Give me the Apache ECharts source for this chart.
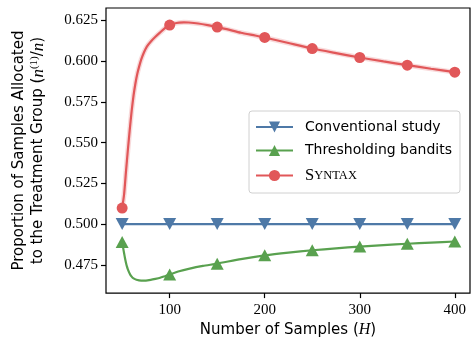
<!DOCTYPE html>
<html>
<head>
<meta charset="utf-8">
<script src="https://cdn.jsdelivr.net/npm/echarts@6/dist/echarts.min.js"></script>
<style>
html,body{margin:0;padding:0;background:#fff;}
#chart{width:473px;height:343px;}
</style>
</head>
<body>
<div id="chart"></div>
<script>
// ---- data ----
const markerX = [50, 100, 150, 200, 250, 300, 350, 400];
const xTicks = [100, 200, 300, 400];
const yTicks = [0.475, 0.500, 0.525, 0.550, 0.575, 0.600, 0.625];

const conventionalX = [50, 100, 150, 200, 250, 300, 350, 400];
const conventionalY = [0.5, 0.5, 0.5, 0.5, 0.5, 0.5, 0.5, 0.5];

const thresholdX = [50, 51, 52, 53, 54, 55, 56, 58, 60, 62, 65, 70, 75, 80, 85, 90, 95, 100, 110, 120, 135, 150, 175, 200, 225, 250, 275, 300, 325, 350, 375, 400];
const thresholdY = [0.4890, 0.4855, 0.4822, 0.4790, 0.4763, 0.4740, 0.4722, 0.4695, 0.4677, 0.4666, 0.4658, 0.4653, 0.4653, 0.4657, 0.4663, 0.4670, 0.4680, 0.4690, 0.4710, 0.4725, 0.4743, 0.4757, 0.4785, 0.4808, 0.4825, 0.4839, 0.4851, 0.4862, 0.4871, 0.4879, 0.4886, 0.4893];

const syntaxX = [50, 52, 54, 56, 58, 60, 62, 64, 66, 68, 70, 73, 76, 80, 85, 90, 95, 100, 105, 110, 115, 120, 130, 140, 150, 160, 175, 190, 200, 225, 250, 275, 300, 325, 350, 375, 400];
const syntaxY = [0.5098, 0.5180, 0.5320, 0.5455, 0.5580, 0.5695, 0.5790, 0.5865, 0.5925, 0.5970, 0.6010, 0.6055, 0.6090, 0.6120, 0.6150, 0.6177, 0.6203, 0.6222, 0.6232, 0.6237, 0.6239, 0.6238, 0.6232, 0.6222, 0.6210, 0.6197, 0.6175, 0.6158, 0.6146, 0.6112, 0.6078, 0.6050, 0.6023, 0.5999, 0.5976, 0.5954, 0.5933];

const names = ['Conventional study', 'Thresholding bandits', 'Syntax'];
// ---------------------------------------

const zip = (xs, ys) => xs.map((x, i) => [x, ys[i]]);
const markSize = (s) => (v) => markerX.indexOf(v[0]) >= 0 ? s : 0;

const BLUE = '#4e79a7', GREEN = '#59a14f', RED = '#e15759';
const SANS = 'DejaVu Sans';
const SERIF = 'Liberation Serif';

const chart = echarts.init(document.getElementById('chart'), null, {renderer: 'canvas'});
chart.setOption({
  animation: false,
  backgroundColor: '#fff',
  grid: {left: 106, top: 8, width: 364, height: 285.5, show: true, borderColor: '#000', borderWidth: 1.2, backgroundColor: 'transparent'},
  xAxis: {
    type: 'value', min: 33, max: 416,
    name: '{a|Number of Samples (}{i|H}{a|)}',
    nameLocation: 'middle', nameGap: 28,
    nameTextStyle: {fontFamily: SANS, fontSize: 15, color: '#000',
      rich: {
        a: {fontFamily: SANS, fontSize: 15, color: '#000'},
        i: {fontFamily: SERIF, fontStyle: 'italic', fontSize: 16, color: '#000'}
      }},
    axisLine: {show: false},
    splitLine: {show: false},
    axisTick: {show: true, length: 5, inside: false, customValues: xTicks, lineStyle: {color: '#000', width: 1.2}},
    axisLabel: {customValues: xTicks, margin: 9, fontFamily: SERIF, fontSize: 15, color: '#000'}
  },
  yAxis: {
    type: 'value', min: 0.4576, max: 0.6327,
    name: '{a|Proportion of Samples Allocated}\n{a|to the Treatment Group (}{i|n}{s|(1)}{a|/}{i|n}{a|)}',
    nameLocation: 'middle', nameGap: 58, nameRotate: 90,
    nameTextStyle: {
      fontFamily: SANS, fontSize: 15, color: '#000', lineHeight: 19,
      rich: {
        a: {fontFamily: SANS, fontSize: 15, color: '#000', lineHeight: 19},
        i: {fontFamily: SERIF, fontStyle: 'italic', fontSize: 17, color: '#000', lineHeight: 19},
        s: {fontFamily: SERIF, fontSize: 11, color: '#000', lineHeight: 19, verticalAlign: 'top'}
      }
    },
    axisLine: {show: false},
    splitLine: {show: false},
    axisTick: {show: true, length: 5, inside: false, customValues: yTicks, lineStyle: {color: '#000', width: 1.2}},
    axisLabel: {customValues: yTicks, margin: 8, fontFamily: SERIF, fontSize: 15, color: '#000',
      formatter: (v) => v.toFixed(3)}
  },
  legend: {
    data: names,
    left: 249, top: 111,
    orient: 'vertical',
    itemWidth: 37, itemHeight: 14, itemGap: 9.5,
    padding: [9, 8, 9, 6],
    backgroundColor: 'rgba(255,255,255,0.85)',
    borderColor: '#d0d0d0', borderWidth: 1, borderRadius: 3,
    textStyle: {fontFamily: SANS, fontSize: 14, color: '#000', padding: [0, 0, 0, 7],
      rich: {
        sc1: {fontFamily: SERIF, fontSize: 16.5, color: '#000'},
        sc2: {fontFamily: SERIF, fontSize: 12.5, color: '#000'}
      }},
    formatter: (n) => n === 'Syntax' ? '{sc1|S}{sc2|YNTAX}' : n
  },
  series: [
    {
      name: names[0], type: 'line', data: zip(conventionalX, conventionalY),
      color: BLUE, lineStyle: {width: 2.2, color: BLUE},
      symbol: 'triangle', symbolRotate: 180, symbolSize: [13, 12], showAllSymbol: true,
      itemStyle: {color: BLUE}, z: 2
    },
    {
      name: names[1], type: 'line', data: zip(thresholdX, thresholdY), smooth: 0.2,
      color: GREEN, lineStyle: {width: 2.2, color: GREEN},
      symbol: 'triangle', symbolSize: markSize([13, 12]), showAllSymbol: true,
      itemStyle: {color: GREEN}, z: 3
    },
    {
      name: 'band', type: 'line', data: zip(syntaxX, syntaxY), smooth: 0.2,
      lineStyle: {width: 5, color: RED, opacity: 0.22}, symbol: 'none', silent: true, z: 3
    },
    {
      name: names[2], type: 'line', data: zip(syntaxX, syntaxY), smooth: 0.2,
      color: RED, lineStyle: {width: 2.2, color: RED},
      symbol: 'circle', symbolSize: markSize(11), showAllSymbol: true,
      itemStyle: {color: RED}, z: 4
    }
  ]
});
</script>
</body>
</html>
